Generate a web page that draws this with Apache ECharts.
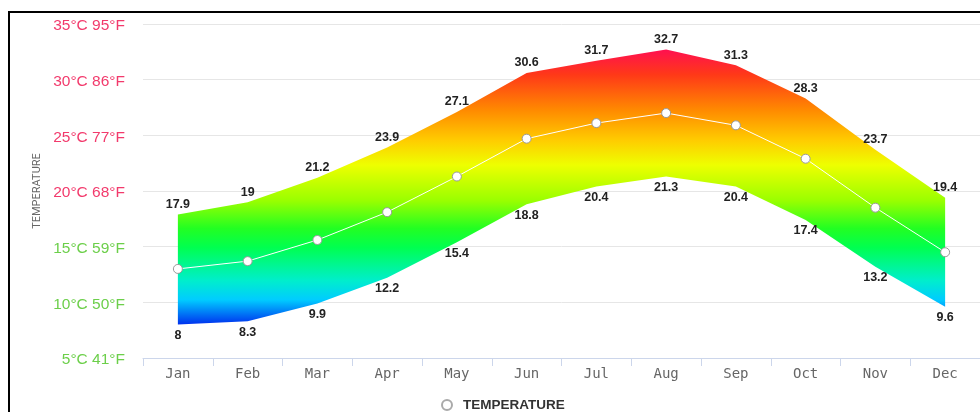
<!DOCTYPE html>
<html>
<head>
<meta charset="utf-8">
<style>
  html, body { margin: 0; padding: 0; background: #fff; }
  #chart { position: absolute; left: 0; top: 0; width: 980px; height: 412px; }
  #frame { position: absolute; left: 8px; top: 11px; width: 1200px; height: 1000px;
           border-left: 2px solid #000; border-top: 2px solid #000; pointer-events: none; }
</style>
<script src="https://cdn.jsdelivr.net/npm/echarts@6/dist/echarts.min.js"></script>
</head>
<body>
<div id="chart"></div>
<div id="frame"></div>
<script>
const months = ['Jan','Feb','Mar','Apr','May','Jun','Jul','Aug','Sep','Oct','Nov','Dec'];
const highs = [17.9, 19, 21.2, 23.9, 27.1, 30.6, 31.7, 32.7, 31.3, 28.3, 23.7, 19.4];
const lows  = [8, 8.3, 9.9, 12.2, 15.4, 18.8, 20.4, 21.3, 20.4, 17.4, 13.2, 9.6];
const means = [13.0, 13.7, 15.6, 18.1, 21.3, 24.7, 26.1, 27.0, 25.9, 22.9, 18.5, 14.5];
const yTicks = [5, 10, 15, 20, 25, 30, 35];

const spans = highs.map((h, i) => +(h - lows[i]).toFixed(2));

const chart = echarts.init(document.getElementById('chart'), null, { renderer: 'canvas' });

const labelStyle = { fontFamily: 'Liberation Sans, Arial, sans-serif', fontSize: 12.5, fontWeight: 'bold', color: '#222', opacity: 1 };

chart.setOption({
  animation: false,
  grid: { left: 143, right: -1, top: 24, bottom: 54, containLabel: false },
  legend: {
    top: 393,
    left: 436,
    data: [{ name: 'TEMPERATURE', icon: 'circle', itemStyle: { color: '#fff', borderColor: '#aaa', borderWidth: 2 } }],
    itemWidth: 10, itemHeight: 10, itemGap: 10,
    textStyle: { fontFamily: 'Liberation Sans, Arial, sans-serif', fontSize: 13.5, fontWeight: 'bold', color: '#333', padding: [0, 0, 0, 6] }
  },
  xAxis: {
    type: 'category',
    data: months,
    boundaryGap: true,
    axisLine: { lineStyle: { color: '#ccd6eb' } },
    axisTick: { show: true, length: 8, interval: 0, lineStyle: { color: '#ccd6eb' } },
    axisLabel: { fontFamily: 'DejaVu Sans Mono, monospace', fontSize: 14, color: '#666', margin: 9 },
    splitLine: { show: false }
  },
  yAxis: {
    type: 'value',
    min: 5, max: 35, interval: 5,
    name: 'TEMPERATURE',
    nameLocation: 'middle',
    nameGap: 100,
    nameRotate: 90,
    nameTextStyle: { fontFamily: 'Roboto, sans-serif', fontSize: 11, color: '#666' },
    axisLine: { show: false },
    axisTick: { show: false },
    splitLine: { lineStyle: { color: '#e6e6e6' } },
    axisLabel: {
      margin: 18,
      formatter: function (v) {
        const f = Math.round(v * 9 / 5 + 32);
        const t = v + '°C ' + f + '°F';
        return v >= 20 ? '{r|' + t + '}' : '{g|' + t + '}';
      },
      rich: {
        r: { color: '#f23a6c', fontFamily: 'Liberation Sans, Arial, sans-serif', fontSize: 15.5, padding: [4, 0, 0, 0] },
        g: { color: '#6ccf4a', fontFamily: 'Liberation Sans, Arial, sans-serif', fontSize: 15.5, padding: [4, 0, 0, 0] }
      }
    }
  },
  series: [
    {
      name: 'low',
      type: 'line',
      stack: 'band',
      data: lows,
      symbol: 'circle',
      symbolSize: 1,
      showSymbol: true,
      itemStyle: { color: 'rgba(0,0,0,0)', borderWidth: 0 },
      lineStyle: { opacity: 0 },
      silent: true,
      label: {
        show: true, position: 'bottom', distance: 4, ...labelStyle
      },
      z: 2
    },
    {
      name: 'high',
      type: 'line',
      stack: 'band',
      data: spans,
      symbol: 'circle',
      symbolSize: 1,
      showSymbol: true,
      itemStyle: { color: 'rgba(0,0,0,0)', borderWidth: 0 },
      lineStyle: { opacity: 0 },
      silent: true,
      areaStyle: {
        opacity: 1,
        color: new echarts.graphic.LinearGradient(0, 0, 0, 1, [
          { offset: 0.0, color: '#ff1050' },
          { offset: 0.09, color: '#ff3818' },
          { offset: 0.22, color: '#ff8a00' },
          { offset: 0.33, color: '#ffcc00' },
          { offset: 0.42, color: '#eeff00' },
          { offset: 0.55, color: '#99ff00' },
          { offset: 0.65, color: '#22ff22' },
          { offset: 0.72, color: '#00ff50' },
          { offset: 0.84, color: '#00eecc' },
          { offset: 0.91, color: '#00ccff' },
          { offset: 1.0, color: '#0030ee' }
        ])
      },
      label: {
        show: true, position: 'top', distance: 3, ...labelStyle,
        formatter: function (p) { return String(highs[p.dataIndex]); }
      },
      z: 2
    },
    {
      name: 'TEMPERATURE',
      type: 'line',
      data: means,
      symbol: 'circle',
      symbolSize: 9,
      itemStyle: { color: '#fff', borderColor: '#999', borderWidth: 1 },
      lineStyle: { color: '#fff', width: 1 },
      z: 5
    }
  ]
});
</script>
</body>
</html>
